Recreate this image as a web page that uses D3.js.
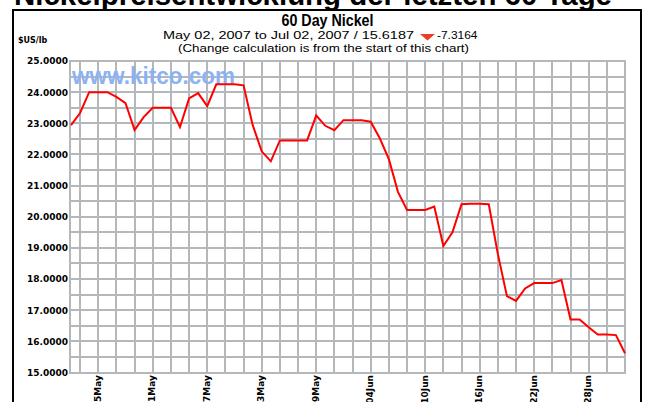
<!DOCTYPE html>
<html lang="en">
<head>
    <meta charset="utf-8">
    <script src="https://d3js.org/d3.v7.min.js"></script>
    <style>
        body { margin: 0; background: white; }
        .grid line { stroke: #b4b8bb; stroke-width: 2px; shape-rendering: crispEdges; }
        .grid path { stroke-width: 0; }
        .axis-lbl text { font-family: "DejaVu Sans", sans-serif; font-weight: bold; font-size: 9px; fill: black; }
        .axis-lbl path, .axis-lbl line { display: none; }
        .hdr { font-family: "Liberation Sans Narrow", "Liberation Sans", Arial, sans-serif; fill: black; }
    </style>
</head>
<body>
<div id="my_dataviz"></div>
<script>
    // daily nickel price, $US/lb, starting May 02, 2007
    const startDate = "2007-05-02";
    const endDate = "2007-07-02";
    const prices = [
        22.94, 23.33, 24.00, 24.00, 24.00, 23.85, 23.65, 22.78, 23.20, 23.50,
        23.50, 23.50, 22.88, 23.80, 23.97, 23.55, 24.25, 24.25, 24.25, 24.22,
        22.95, 22.10, 21.78, 22.45, 22.45, 22.45, 22.45, 23.25, 22.92, 22.78,
        23.10, 23.10, 23.10, 23.05, 22.52, 21.85, 20.80, 20.22, 20.22, 20.22,
        20.33, 19.06, 19.50, 20.40, 20.42, 20.42, 20.40, 18.80, 17.45, 17.30,
        17.70, 17.87, 17.87, 17.87, 17.97, 16.70, 16.70, 16.45, 16.22, 16.22,
        16.20, 15.6187
    ];
    const xLabelDates = ["2007-05-05", "2007-05-11", "2007-05-17", "2007-05-23", "2007-05-29",
        "2007-06-04", "2007-06-10", "2007-06-16", "2007-06-22", "2007-06-28"];
    const yTickValues = [15, 16, 17, 18, 19, 20, 21, 22, 23, 24, 25];
    const yGridValues = d3.range(15, 25.01, 0.5);

    const parse = d3.timeParse("%Y-%m-%d");
    const t0 = parse(startDate), t1 = parse(endDate);
    const data = prices.map((p, i) => ({ date: d3.timeDay.offset(t0, i), price: p }));

    const W = 646, H = 402;
    const plot = { left: 70, right: 625, top: 61, bottom: 372.5 };

    const svg = d3.select("#my_dataviz").append("svg")
        .attr("width", W).attr("height", H);

    const x = d3.scaleTime().domain([t0, t1]).range([71, 625]);
    const y = d3.scaleLinear().domain([15, 25]).range([plot.bottom, plot.top]);

    // big page title, cut off at the top
    svg.append("text")
        .attr("x", 14).attr("y", 5)
        .attr("textLength", 598).attr("lengthAdjust", "spacingAndGlyphs")
        .style("font-family", "Liberation Sans, Arial, sans-serif")
        .style("font-weight", "bold").style("font-size", "29px")
        .text("Nickelpreisentwicklung der letzten 60 Tage");

    // outer frame
    svg.append("rect")
        .attr("x", 13).attr("y", 10).attr("width", 628).attr("height", 400)
        .attr("fill", "white").attr("stroke", "black").attr("stroke-width", 2);

    // header
    svg.append("text").attr("class", "hdr")
        .attr("x", 327.5).attr("y", 25.5).attr("text-anchor", "middle")
        .attr("textLength", 92).attr("lengthAdjust", "spacingAndGlyphs")
        .style("font-weight", "bold").style("font-size", "16px")
        .text("60 Day Nickel");
    svg.append("text").attr("class", "hdr")
        .attr("x", 163).attr("y", 39)
        .attr("textLength", 251).attr("lengthAdjust", "spacingAndGlyphs")
        .style("font-size", "11px")
        .text("May 02, 2007 to Jul 02, 2007  /  15.6187");
    svg.append("path")
        .attr("d", "M420,34 L435,34 L427.5,40.5 Z")
        .attr("fill", "#e6402b");
    svg.append("text").attr("class", "hdr")
        .attr("x", 437).attr("y", 39)
        .attr("textLength", 40.5).attr("lengthAdjust", "spacingAndGlyphs")
        .style("font-size", "11px")
        .text("-7.3164");
    svg.append("text").attr("class", "hdr")
        .attr("x", 178).attr("y", 51.5)
        .attr("textLength", 291).attr("lengthAdjust", "spacingAndGlyphs")
        .style("font-size", "11px")
        .text("(Change calculation is from the start of this chart)");

    svg.append("text")
        .attr("x", 18).attr("y", 43.3)
        .style("font-family", "DejaVu Sans, sans-serif")
        .style("font-weight", "bold").style("font-size", "8px")
        .text("$US/lb");

    // grid
    svg.append("g").attr("class", "grid")
        .selectAll("line").data(yGridValues).join("line")
        .attr("x1", plot.left).attr("x2", plot.right)
        .attr("y1", d => y(d)).attr("y2", d => y(d));

    const gridDates = d3.timeDay.range(d3.timeDay.offset(t0, 1), t1, 2);
    svg.append("g").attr("class", "grid")
        .selectAll("line").data(gridDates).join("line")
        .attr("x1", d => x(d)).attr("x2", d => x(d))
        .attr("y1", plot.top).attr("y2", plot.bottom);

    svg.append("rect")
        .attr("x", plot.left).attr("y", plot.top)
        .attr("width", plot.right - plot.left).attr("height", plot.bottom - plot.top)
        .attr("fill", "none").attr("stroke", "#b4b8bb").attr("stroke-width", 2)
        .style("shape-rendering", "crispEdges");

    // watermark
    svg.append("text")
        .attr("x", 72).attr("y", 84)
        .attr("textLength", 163).attr("lengthAdjust", "spacingAndGlyphs")
        .style("font-family", "Liberation Sans, Arial, sans-serif")
        .style("font-weight", "bold").style("font-size", "24px")
        .attr("fill", "#8cb2f4")
        .text("www.kitco.com");

    // y axis labels
    svg.append("g").attr("class", "axis-lbl")
        .attr("transform", `translate(${plot.left},0)`)
        .call(d3.axisLeft(y).tickValues(yTickValues).tickSize(0).tickPadding(2)
            .tickFormat(d3.format(".4f")));

    // x axis labels (rotated)
    const fmt = d3.timeFormat("%d%b");
    svg.append("g").attr("class", "axis-lbl")
        .selectAll("text").data(xLabelDates.map(parse)).join("text")
        .attr("transform", d => `translate(${x(d) + 2.5},375) rotate(-90)`)
        .attr("text-anchor", "end")
        .text(d => fmt(d));

    // price line
    svg.append("path")
        .datum(data)
        .attr("fill", "none")
        .attr("stroke", "#ff0000")
        .attr("stroke-width", 2)
        .attr("d", d3.line().x(d => x(d.date)).y(d => y(d.price)));
</script>
</body>
</html>
